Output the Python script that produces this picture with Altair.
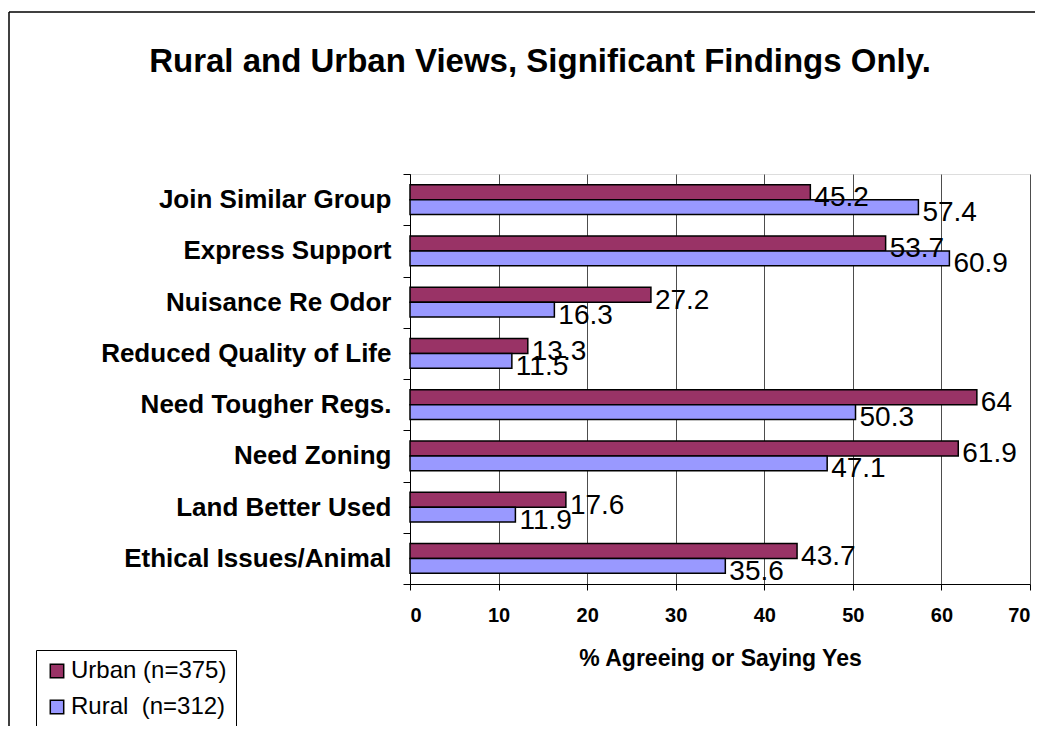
import altair as alt
import pandas as pd

categories = ["Join Similar Group", "Express Support", "Nuisance Re Odor",
              "Reduced Quality of Life", "Need Tougher Regs.", "Need Zoning",
              "Land Better Used", "Ethical Issues/Animal"]
urban = [45.2, 53.7, 27.2, 13.3, 64, 61.9, 17.6, 43.7]
rural = [57.4, 60.9, 16.3, 11.5, 50.3, 47.1, 11.9, 35.6]
series = ["Urban (n=375)", "Rural\u00a0 (n=312)"]
colors = ["#993366", "#9999FF"]
x_ticks = [0, 10, 20, 30, 40, 50, 60, 70]

rows = []
for c, u, r in zip(categories, urban, rural):
    rows.append({"cat": c, "series": series[0], "val": u, "lab": f"{u:g}"})
    rows.append({"cat": c, "series": series[1], "val": r, "lab": f"{r:g}"})
df = pd.DataFrame(rows)

FONT = "Liberation Sans"

y_enc = alt.Y("cat:N", sort=categories, title=None,
              scale=alt.Scale(paddingInner=0, paddingOuter=0),
              axis=alt.Axis(labelFont=FONT, labelFontSize=26, labelFontWeight="bold",
                            labelColor="black", tickColor="black", domainColor="black",
                            tickSize=7, labelPadding=12, tickBand="extent",
                            labelLimit=400))
yoff = alt.YOffset("series:N", sort=series,
                   scale=alt.Scale(paddingOuter=0.71, paddingInner=0))
x_enc = alt.X("val:Q", title="% Agreeing or Saying Yes",
              scale=alt.Scale(domain=[0, 70], nice=False),
              axis=alt.Axis(values=x_ticks, labelFont=FONT, labelFontSize=20,
                            labelFontWeight="bold", labelColor="black",
                            titleFont=FONT, titleFontSize=23, titleFontWeight="bold",
                            titleColor="black", titlePadding=22,
                            tickColor="black", domainColor="black", tickSize=6,
                            labelPadding=15, grid=True, gridColor="#4d4d4d",
                            gridWidth=1))

bars = alt.Chart(df).mark_bar(stroke="black", strokeWidth=1.5).encode(
    x=x_enc, y=y_enc, yOffset=yoff,
    color=alt.Color("series:N", sort=series,
                    scale=alt.Scale(domain=series, range=colors),
                    legend=alt.Legend(title=None, orient="none", legendX=-374, legendY=476,
                                      strokeColor="black", fillColor="white",
                                      padding=9, symbolType="square", symbolSize=180,
                                      symbolStrokeColor="black", symbolStrokeWidth=1.5,
                                      labelFont=FONT, labelFontSize=24, labelColor="black",
                                      rowPadding=12, labelOffset=2, labelLimit=300)),
)

labels = alt.Chart(df).mark_text(align="left", baseline="middle", dx=4, dy=6,
                                 font=FONT, fontSize=28, color="black").encode(
    x="val:Q", y=alt.Y("cat:N", sort=categories), yOffset=yoff, text="lab:N"
)

frame_top = alt.Chart(alt.Data(values=[{}])).mark_rule(
    stroke="black", strokeWidth=1.5).encode(
    x=alt.value(-401), x2=alt.value(660), y=alt.value(-162)
)
frame_left = alt.Chart(alt.Data(values=[{}])).mark_rule(
    stroke="black", strokeWidth=1.5).encode(
    x=alt.value(-401), y=alt.value(-162), y2=alt.value(700)
)

chart = alt.layer(frame_top, frame_left, bars, labels).properties(
    width=620, height=410,
    title=alt.TitleParams("Rural and Urban Views, Significant Findings Only.",
                          font=FONT, fontSize=33, fontWeight="bold", color="black",
                          anchor="middle", dx=-180, offset=0, dy=68),
    padding={"left": 402, "top": 166, "right": 5, "bottom": 142},
    autosize=alt.AutoSizeParams(type="none"),
).configure_view(fill="#C0C0C0", stroke="#808080", strokeWidth=1.5
).configure(background="white")

chart.save("out.html", embed_options={"renderer": "svg", "actions": False})
